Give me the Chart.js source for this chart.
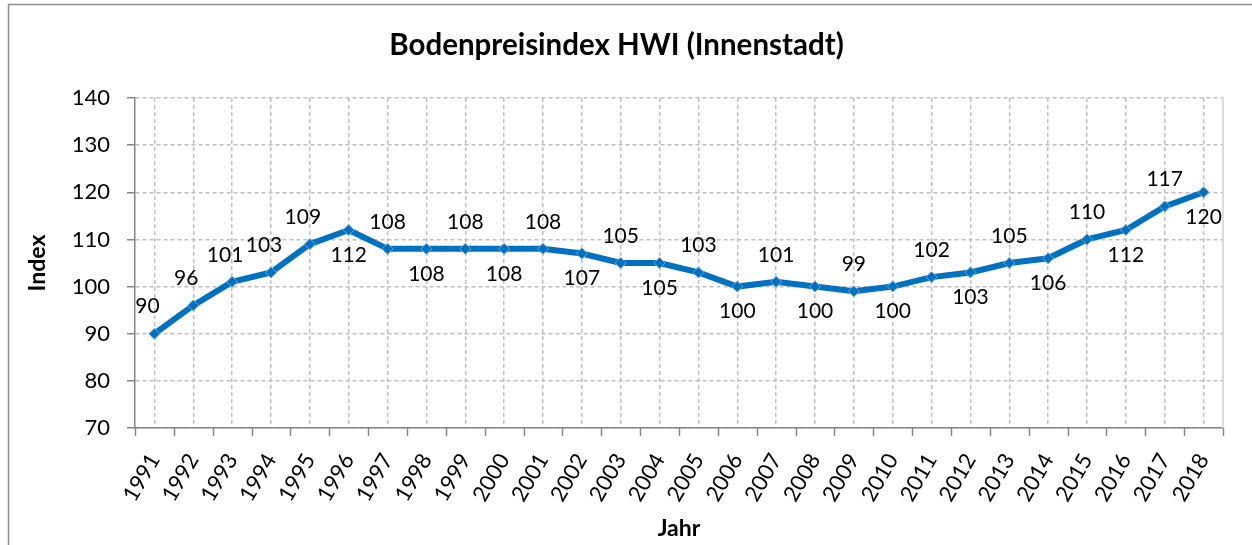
<!DOCTYPE html>
<html><head><meta charset="utf-8">
<script src="https://cdn.jsdelivr.net/npm/chart.js@4"></script>
<style>html,body{margin:0;padding:0;background:#fff}</style>
</head><body>
<canvas id="c" width="1252" height="545" style="display:block;width:1252px;height:545px"></canvas>
<script>
const years = ['1991','1992','1993','1994','1995','1996','1997','1998','1999','2000','2001','2002','2003','2004','2005','2006','2007','2008','2009','2010','2011','2012','2013','2014','2015','2016','2017','2018'];
const indexValues = [90,96,101,103,109,112,108,108,108,108,108,107,105,105,103,100,101,100,99,100,102,103,105,106,110,112,117,120];
const yMin = 70, yMax = 140, yStep = 10;
const chartTitle = 'Bodenpreisindex HWI (Innenstadt)';
const xTitle = 'Jahr', yTitle = 'Index';

const FONT = 'Lato, "Open Sans", sans-serif';
const AXIS = '#868686', GRID = '#c0c0c0', BLUE = '#0070c0';

const decor = {
  id: 'decor',
  beforeDraw(chart) {
    const ctx = chart.ctx;
    ctx.save();
    ctx.fillStyle = '#fff';
    ctx.fillRect(0, 0, chart.width, chart.height);
    ctx.strokeStyle = '#8c8c8c';
    ctx.lineWidth = 1.5;
    ctx.beginPath();
    ctx.moveTo(8.5, chart.height);
    ctx.lineTo(8.5, 4.5);
    ctx.lineTo(chart.width, 4.5);
    ctx.stroke();
    ctx.restore();
  },
  afterDatasetsDraw(chart) {
    const ctx = chart.ctx;
    const area = chart.chartArea;
    const xs = chart.scales.x;
    ctx.save();
    ctx.strokeStyle = '#d0d0d0';
    ctx.lineWidth = 1.5;
    ctx.beginPath();
    ctx.moveTo(area.right, area.top);
    ctx.lineTo(area.right, area.bottom);
    ctx.stroke();
    const w = xs.getPixelForValue(1) - xs.getPixelForValue(0);
    const x0 = xs.getPixelForValue(0) - w / 2;
    ctx.strokeStyle = AXIS;
    ctx.lineWidth = 1.5;
    ctx.beginPath();
    for (let i = 0; i <= years.length; i++) {
      const x = Math.round(x0 + i * w) + 0.5;
      ctx.moveTo(x, area.bottom);
      ctx.lineTo(x, area.bottom + 8);
    }
    ctx.stroke();
    const meta = chart.getDatasetMeta(0);
    ctx.fillStyle = '#000';
    ctx.font = '21px ' + FONT;
    ctx.textAlign = 'center';
    ctx.textBaseline = 'middle';
    meta.data.forEach((pt, i) => {
      const above = i < 5 || i % 2 === 0;
      const dx = i < 5 ? -7 : 0;
      const y = above ? pt.y - 27 : pt.y + 25;
      ctx.fillText(String(indexValues[i]), pt.x + dx, y);
    });
    ctx.restore();
  }
};

new Chart(document.getElementById('c'), {
  type: 'line',
  data: {
    labels: years,
    datasets: [{
      data: indexValues,
      borderColor: BLUE,
      backgroundColor: BLUE,
      borderWidth: 6,
      tension: 0,
      pointStyle: 'rectRot',
      pointRadius: 5.5,
      pointBackgroundColor: BLUE,
      pointBorderColor: '#6fa8dc',
      pointBorderWidth: 1,
      clip: false
    }]
  },
  options: {
    responsive: false,
    animation: false,
    events: [],
    layout: { padding: { left: 10, right: 29, top: 0, bottom: 0 } },
    plugins: {
      legend: { display: false },
      tooltip: { enabled: false },
      title: {
        display: true,
        text: chartTitle,
        color: '#000',
        font: { family: FONT, size: 29.5, weight: 'bold', lineHeight: 1.2 },
        padding: { top: 27.3, bottom: 35.3 }
      }
    },
    scales: {
      x: {
        type: 'category',
        offset: true,
        grid: { offset: false, color: GRID, lineWidth: 1.5, drawTicks: false },
        border: { display: true, color: AXIS, width: 1.5, dash: [4, 3] },
        ticks: {
          color: '#000',
          font: { family: FONT, size: 22 },
          maxRotation: 60, minRotation: 60,
          padding: 21,
          autoSkip: false
        },
        title: {
          display: true, text: xTitle, color: '#000',
          font: { family: FONT, size: 23, weight: 'bold', lineHeight: 1.2 },
          padding: { top: 0, bottom: 3 }
        },
        afterFit(scale) { scale.height = 117; }
      },
      y: {
        min: yMin, max: yMax,
        grid: { color: GRID, lineWidth: 1.5, tickLength: 8, tickColor: AXIS, tickWidth: 1.5, tickBorderDash: [] },
        border: { display: true, color: AXIS, width: 1.5, dash: [4, 3] },
        ticks: {
          stepSize: yStep,
          color: '#000',
          font: { family: FONT, size: 22 },
          padding: 17
        },
        title: {
          display: true, text: yTitle, color: '#000',
          font: { family: FONT, size: 23, weight: 'bold', lineHeight: 1.2 },
          padding: { top: 14, bottom: 0 }
        },
        afterFit(scale) { scale.width = 125; }
      }
    }
  },
  plugins: [decor]
});
</script>
</body></html>
